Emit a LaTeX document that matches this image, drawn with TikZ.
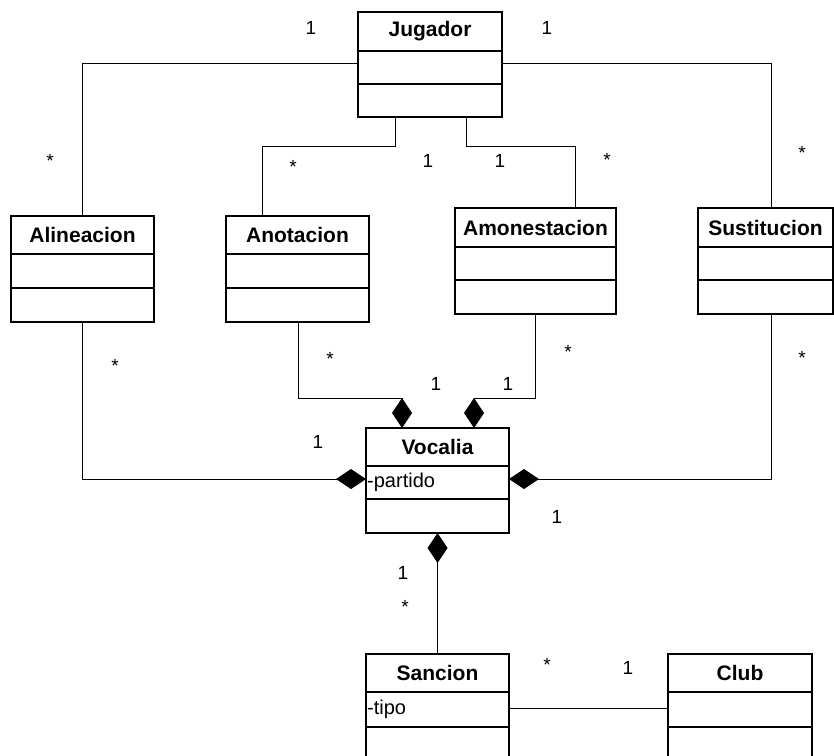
\documentclass[tikz,border=0pt]{standalone}
\usepackage{fontspec}
\setmainfont{Liberation Sans}
\usetikzlibrary{arrows.meta}

\tikzset{
  box/.style={draw, line width=1.3pt, rectangle, anchor=north west,
    inner sep=0pt, outer sep=0pt},
  conn/.style={line width=1pt},
  comp/.style={-{Diamond[length=30pt,width=20pt]}},
  compstart/.style={{Diamond[length=30pt,width=20pt]}-},
  mult/.style={font=\fontsize{19}{19}\selectfont, inner sep=0pt},
  attrtext/.style={anchor=west, inner xsep=1pt, inner ysep=0pt,
    font=\fontsize{20}{20}\selectfont},
}

% UML class: name, left, top, right, header bottom, attribute bottom, bottom, title, attribute
\newcommand\umlclass[9]{%
  \node[box, minimum width={(#4-#2)*1pt}, minimum height={(#5-#3)*1pt},
    font=\bfseries\fontsize{21}{21}\selectfont] (#1) at (#2,#3) {#8};
  \node[box, minimum width={(#4-#2)*1pt}, minimum height={(#6-#5)*1pt},
    label={[attrtext]west:#9}] (#1-attr) at (#2,#5) {};
  \node[box, minimum width={(#4-#2)*1pt}, minimum height={(#7-#6)*1pt}]
    (#1-ops) at (#2,#6) {};
}

\begin{document}
\begin{tikzpicture}[x=1pt, y=-1pt]
  \useasboundingbox (0,0) rectangle (834,755);
  \clip (0,0) rectangle (834,755);

  % classes
  \umlclass{Jugador}{358}{12}{502}{51}{84}{117}{Jugador}{}
  \umlclass{Alineacion}{11}{216}{154}{254}{288}{322}{Alineacion}{}
  \umlclass{Anotacion}{226}{216}{369}{254}{288}{322}{Anotacion}{}
  \umlclass{Amonestacion}{455}{208}{616}{247}{280}{314}{Amonestacion}{}
  \umlclass{Sustitucion}{698}{208}{833}{247}{280}{314}{Sustitucion}{}
  \umlclass{Vocalia}{366}{428}{509}{466}{499}{533}{Vocalia}{-partido}
  \umlclass{Sancion}{366}{654}{509}{692}{727}{765}{Sancion}{-tipo}
  \umlclass{Club}{668}{654}{812}{692}{727}{765}{Club}{}

  % associations with Jugador
  \draw[conn] ([yshift=-12pt]Jugador-attr.north west) -| (Alineacion.north);
  \draw[conn] ([yshift=-12pt]Jugador-attr.north east) -| ([xshift=5.5pt]Sustitucion.north);
  \draw[conn] ([xshift=-35pt]Jugador-ops.south) -- ++(0,29) -| ([xshift=-35.5pt]Anotacion.north);
  \draw[conn] ([xshift=36pt]Jugador-ops.south) -- ++(0,29) -| ([xshift=39.5pt]Amonestacion.north);

  % compositions into Vocalia
  \draw[conn, comp] (Alineacion-ops.south) |- ([yshift=3.5pt]Vocalia-attr.west);
  \draw[conn, comp] ([xshift=0.5pt]Anotacion-ops.south) -- ++(0,76) -| ([xshift=-35.5pt]Vocalia.north);
  \draw[conn, comp] (Amonestacion-ops.south) -- ++(0,84) -| ([xshift=36.5pt]Vocalia.north);
  \draw[conn, comp] ([xshift=5.5pt]Sustitucion-ops.south) |- ([yshift=3.5pt]Vocalia-attr.east);
  \draw[conn, compstart] (Vocalia-ops.south) -- (Sancion.north);

  % Sancion -- Club
  \draw[conn] ([yshift=1pt]Sancion-attr.east) -- ([yshift=1pt]Club-attr.west);

  % multiplicities
  \node[mult] (m1)  at (311,28)  {1};
  \node[mult] (m2)  at (547,28)  {1};
  \node[mult] (m3)  at (50,161)  {*};
  \node[mult] (m4)  at (293,167) {*};
  \node[mult] (m5)  at (428,161) {1};
  \node[mult] (m6)  at (500,161) {1};
  \node[mult] (m7)  at (607,160) {*};
  \node[mult] (m8)  at (802,153) {*};
  \node[mult] (m9)  at (115,366) {*};
  \node[mult] (m10) at (330,359) {*};
  \node[mult] (m11) at (436,384) {1};
  \node[mult] (m12) at (508,384) {1};
  \node[mult] (m13) at (568,352) {*};
  \node[mult] (m14) at (802,358) {*};
  \node[mult] (m15) at (318,442) {1};
  \node[mult] (m16) at (557,517) {1};
  \node[mult] (m17) at (403,573) {1};
  \node[mult] (m18) at (405,607) {*};
  \node[mult] (m19) at (547,665) {*};
  \node[mult] (m20) at (628,668) {1};
\end{tikzpicture}
\end{document}
